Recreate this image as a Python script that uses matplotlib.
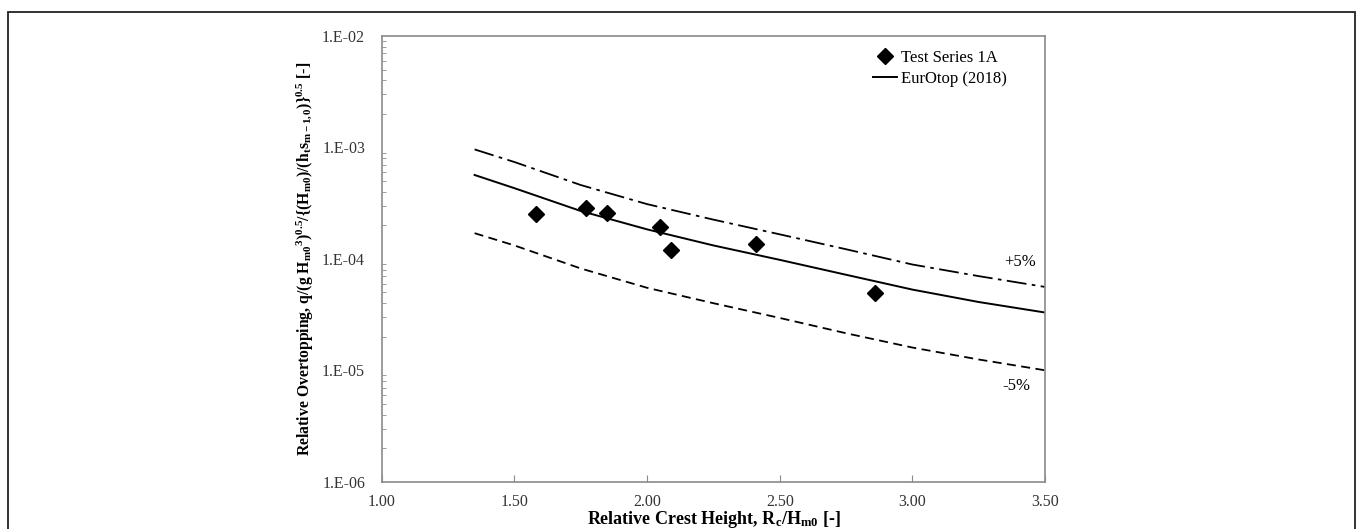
import matplotlib
matplotlib.use('Agg')
import matplotlib.pyplot as plt
import matplotlib.ticker as mticker
from matplotlib.patches import Rectangle
import numpy as np

plt.rcParams['font.family'] = ['Liberation Serif', 'DejaVu Serif']
plt.rcParams['mathtext.fontset'] = 'custom'
plt.rcParams['mathtext.rm'] = 'Liberation Serif'
plt.rcParams['mathtext.it'] = 'Liberation Serif:italic'
plt.rcParams['mathtext.bf'] = 'Liberation Serif:bold'

# Wyniki pomiarów - seria 1A
rc_hm0 = [1.58, 1.77, 1.85, 2.05, 2.09, 2.41, 2.86]
q_rel = [2.51e-4, 2.88e-4, 2.57e-4, 1.93e-4, 1.19e-4, 1.37e-4, 4.91e-5]

# Krzywa EurOtop (2018) z pasmem +/-5%
x_curve = [1.35, 1.50, 1.75, 2.00, 2.25, 2.50, 2.75, 3.00, 3.25, 3.50]
q_eurotop = [5.66e-4, 4.31e-4, 2.69e-4, 1.84e-4, 1.32e-4, 9.8e-5, 7.2e-5, 5.3e-5, 4.1e-5, 3.3e-5]
q_plus5 = [9.6e-4, 7.4e-4, 4.6e-4, 3.1e-4, 2.25e-4, 1.66e-4, 1.22e-4, 8.9e-5, 7.0e-5, 5.6e-5]
q_minus5 = [1.70e-4, 1.32e-4, 8.2e-5, 5.5e-5, 4.0e-5, 2.95e-5, 2.15e-5, 1.60e-5, 1.25e-5, 1.0e-5]

fig = plt.figure(figsize=(13.6, 5.29), dpi=100)
ax = fig.add_axes([0.2807, 0.0894, 0.4877, 0.8425])

ax.plot(x_curve, q_plus5, color='black', lw=1.3, dashes=[11, 3, 2, 3])
ax.plot(x_curve, q_eurotop, color='black', lw=1.4, label='EurOtop (2018)')
ax.plot(x_curve, q_minus5, color='black', lw=1.3, dashes=[5, 3])
ax.plot(rc_hm0, q_rel, 'D', color='black', markersize=8.5, label='Test Series 1A')

ax.set_yscale('log')
ax.set_xlim(1.0, 3.5)
ax.set_ylim(1e-6, 1e-2)
ax.set_xticks(np.arange(1.0, 3.51, 0.5))
ax.xaxis.set_major_formatter(mticker.FormatStrFormatter('%.2f'))
ax.yaxis.set_major_locator(mticker.LogLocator(base=10, numticks=10))
ax.yaxis.set_minor_locator(mticker.LogLocator(base=10, subs=np.arange(2, 10), numticks=10))
ax.yaxis.set_minor_formatter(mticker.NullFormatter())
ax.yaxis.set_major_formatter(mticker.FuncFormatter(lambda v, p: '1.E-%02d' % round(-np.log10(v))))

for s in ax.spines.values():
    s.set_color('#8a8a8a')
    s.set_linewidth(1.2)
ax.tick_params(axis='both', which='both', direction='in', color='#8a8a8a',
               labelsize=11.5, labelcolor='#333333')
ax.tick_params(axis='x', which='major', length=5, pad=9)
ax.tick_params(axis='y', which='major', length=0, pad=12)
ax.tick_params(axis='y', which='minor', length=3)

ax.set_xlabel(r'Relative Crest Height, R$_{\mathbf{c}}$/H$_{\mathbf{m0}}$ [-]',
              fontsize=13, fontweight='bold')
ax.xaxis.set_label_coords(0.5, -0.062)
ax.set_ylabel(r'Relative Overtopping, q/(g H$_{\mathbf{m0}}$$^{\mathbf{3}}$)$^{\mathbf{0.5}}$'
              r'/{(H$_{\mathbf{m0}}$)/(h$_{\mathbf{t}}$s$_{\mathbf{m-1,0}}$)}$^{\mathbf{0.5}}$ [-]',
              fontsize=11.3, fontweight='bold')
ax.yaxis.set_label_coords(-0.1006, 0.5)

ax.text(3.406, 9.44e-5, '+5%', fontsize=12, ha='center', va='center')
ax.text(3.393, 7.2e-6, '-5%', fontsize=12, ha='center', va='center')

handles, labels = ax.get_legend_handles_labels()
ax.legend(handles[::-1], labels[::-1], loc='upper left', bbox_to_anchor=(873 / 1360, 1 - 50 / 529),
          bbox_transform=fig.transFigure, frameon=False, fontsize=12, handlelength=1.45,
          handletextpad=0.25, labelspacing=0.3, borderpad=0, borderaxespad=0, numpoints=1)

# ramka wokół całego rysunku
fig.add_artist(Rectangle((8 / 1360, -0.1), 1347 / 1360, 1.1 - 12 / 529, transform=fig.transFigure,
                         fill=False, edgecolor='#222222', linewidth=1.3, clip_on=False))

fig.savefig('out.png', dpi=100)
